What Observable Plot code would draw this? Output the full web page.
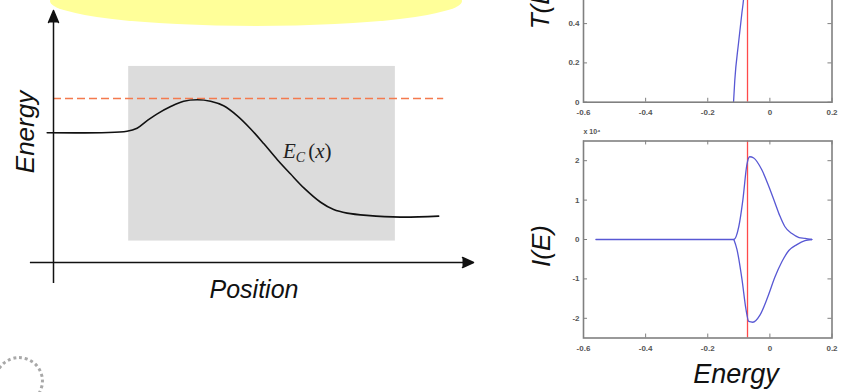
<!DOCTYPE html>
<html><head><meta charset="utf-8">
<script src="https://cdn.jsdelivr.net/npm/d3@7"></script>
<script src="https://cdn.jsdelivr.net/npm/@observablehq/plot@0.6"></script>
<style>
html,body{margin:0;padding:0;background:#fff;}
#stage{position:relative;width:851px;height:392px;overflow:hidden;background:#fff;font-family:"Liberation Sans",Arial,sans-serif;}
#stage > *{position:absolute;}
</style></head><body><div id="stage"></div>
<script>
// ---- Left diagram: conduction band profile E_C(x) (arbitrary units) ----
const ecPosition = [-0.15,1.75,1.99,2.23,2.47,2.79,3.10,3.42,3.74,4.05,4.37,4.69,5.01,5.33,5.64,5.96,6.36,6.67,6.99,7.46,8.26,9.17];
const ecEnergy   = [5.15,5.21,5.33,5.63,5.90,6.19,6.40,6.46,6.40,6.22,5.83,5.31,4.71,4.08,3.52,2.96,2.39,2.10,1.96,1.87,1.80,1.84];
const regionPosition = [1.79, 8.14];
const regionEnergy = [0.85, 7.78];
const fermiLevel = 6.51;
const fermiExtent = [0, 9.29];

// ---- Right panels ----
const xTicks = [-0.6,-0.4,-0.2,0,0.2];
const xTickLabels = ["-0.6","-0.4","-0.2","0","0.2"];
const tTicks = [0,0.2,0.4];
const tTickLabels = ["0","0.2","0.4"];
const iTicks = [-2,-1,0,1,2];
const iTickLabels = ["-2","-1","0","1","2"];
const iExponent = "x 10\u2074";
const markerEnergy = -0.072;

const tEnergy = [-0.117,-0.113,-0.101,-0.090,-0.085,-0.082];
const tValue  = [0,0.11,0.30,0.455,0.52,0.58];

const iUpperEnergy = [-0.56,-0.116,-0.100,-0.087,-0.074,-0.065,-0.052,-0.026,-0.003,0.016,0.032,0.048,0.071,0.094,0.113,0.135];
const iUpperValue  = [0,0,0.33,1.0,1.9,2.1,2.07,1.77,1.34,0.94,0.6,0.33,0.15,0.05,0.03,0];
const iLowerEnergy = [-0.116,-0.106,-0.090,-0.077,-0.068,-0.055,-0.032,-0.006,0.016,0.039,0.061,0.087,0.113,0.135];
const iLowerValue  = [0,-0.25,-1.0,-1.77,-2.08,-2.1,-1.92,-1.44,-0.96,-0.56,-0.28,-0.13,-0.03,0];

const stage = document.getElementById("stage");

// yellow callout (decorative)
const ell = document.createElement("div");
Object.assign(ell.style,{left:"50px",top:"-24px",width:"412px",height:"50px",background:"#ffff99",borderRadius:"50%"});
stage.appendChild(ell);

// logo seal (decorative)
const seal = document.createElement("div");
Object.assign(seal.style,{left:"-6px",top:"356px",width:"50px",height:"50px",border:"3px dotted #a8a8a8",borderRadius:"50%",boxSizing:"border-box"});
stage.appendChild(seal);

// ---- left plot ----
const ecData = ecPosition.map((p,i)=>({p, e: ecEnergy[i]}));
const region = [{x1: regionPosition[0], x2: regionPosition[1], y1: regionEnergy[0], y2: regionEnergy[1]}];
const left = Plot.plot({
  width: 500, height: 320,
  marginLeft: 53, marginRight: 27, marginTop: 10, marginBottom: 58,
  x: {domain: [0, 10], axis: null},
  y: {domain: [0, 10], axis: null},
  style: {background: "transparent", overflow: "visible"},
  marks: [
    Plot.rect(region, {x1: "x1", x2: "x2", y1: "y1", y2: "y2", fill: "#dcdcdc"}),
    Plot.ruleY([fermiLevel], {x1: fermiExtent[0], x2: fermiExtent[1], stroke: "#f47a4e", strokeWidth: 1.5, strokeDasharray: "8,4"}),
    Plot.line(ecData, {x: "p", y: "e", curve: "catmull-rom", stroke: "#111", strokeWidth: 1.6}),
    Plot.ruleX([0], {y1: -0.83, y2: 9.6, stroke: "#111", strokeWidth: 1.5}),
    Plot.ruleY([0], {x1: -0.55, x2: 9.8, stroke: "#111", strokeWidth: 1.5}),
    Plot.vector([{x: 0, y: 10}], {x: "x", y: "y", length: 12, rotate: 0, anchor: "end", shape: "spike", r: 5, stroke: "#111", fill: "#111"}),
    Plot.vector([{x: 10, y: 0}], {x: "x", y: "y", length: 11, rotate: 90, anchor: "end", shape: "spike", r: 5, stroke: "#111", fill: "#111"})
  ]
});
left.style.left = "0px"; left.style.top = "0px";
stage.appendChild(left);

// ---- right panels ----
function panel({yDomain, yTicks, yTickLabels, series, top, height, marginTop, marginBottom, tickY, exponent}) {
  const x0 = -0.6, x1 = 0.2, tickX = 0.013;
  const [ya, yb] = yDomain;
  const labelStyle = {fontSize: 8, fontWeight: "bold", fill: "#555"};
  const marks = [
    Plot.ruleX([markerEnergy], {y1: ya, y2: yb, stroke: "#ff4a4a", strokeWidth: 1.3}),
    ...series.map(s => Plot.line(s, {x: "e", y: "v", curve: "monotone-x", stroke: "#5858d4", strokeWidth: 1.3})),
    Plot.ruleX(xTicks, {y1: ya, y2: ya + tickY, stroke: "#808080", strokeWidth: 1}),
    Plot.ruleX(xTicks, {y1: yb - tickY, y2: yb, stroke: "#808080", strokeWidth: 1}),
    Plot.ruleY(yTicks, {x1: x0, x2: x0 + tickX, stroke: "#808080", strokeWidth: 1}),
    Plot.ruleY(yTicks, {x1: x1 - tickX, x2: x1, stroke: "#808080", strokeWidth: 1}),
    Plot.frame({stroke: "#808080", strokeWidth: 1.6}),
    Plot.text(xTicks, {x: d => d, y: ya, text: (d, i) => xTickLabels[i], dy: 10, ...labelStyle}),
    Plot.text(yTicks, {x: x0, y: d => d, text: (d, i) => yTickLabels[i], dx: -4, textAnchor: "end", ...labelStyle})
  ];
  if (exponent) marks.push(Plot.text([exponent], {frameAnchor: "top-left", text: d => d, dy: -7, textAnchor: "start", lineAnchor: "bottom", ...labelStyle, fontSize: 7}));
  const p = Plot.plot({
    width: 311, height, marginLeft: 43, marginRight: 19.5, marginTop, marginBottom,
    x: {domain: [x0, x1], axis: null},
    y: {domain: yDomain, axis: null},
    style: {background: "transparent", overflow: "visible", fontFamily: "Liberation Sans, Arial, sans-serif"},
    marks
  });
  p.style.left = "540px"; p.style.top = top + "px";
  stage.appendChild(p);
}

panel({
  yDomain: [0, 1], yTicks: tTicks, yTickLabels: tTickLabels,
  series: [tEnergy.map((e,i)=>({e, v: tValue[i]}))],
  top: -120, height: 250, marginTop: 25.2, marginBottom: 28.3, tickY: 0.02
});
panel({
  yDomain: [-2.5, 2.5], yTicks: iTicks, yTickLabels: iTickLabels,
  series: [iUpperEnergy.map((e,i)=>({e, v: iUpperValue[i]})), iLowerEnergy.map((e,i)=>({e, v: iLowerValue[i]}))],
  top: 110, height: 260, marginTop: 30.5, marginBottom: 32.5, tickY: 0.1, exponent: iExponent
});

// ---- titles / annotations ----
const ns = "http://www.w3.org/2000/svg";
const ov = document.createElementNS(ns, "svg");
ov.setAttribute("width", 851); ov.setAttribute("height", 392);
ov.style.left = "0px"; ov.style.top = "0px";
ov.innerHTML = `
<g font-family="Liberation Sans, Arial, sans-serif" font-style="italic" fill="#111">
  <text transform="translate(34,132) rotate(-90)" text-anchor="middle" font-size="26">Energy</text>
  <text x="254" y="298" text-anchor="middle" font-size="25">Position</text>
  <text transform="translate(549,4) rotate(-90)" text-anchor="middle" font-size="26">T(E)</text>
  <text transform="translate(550,246) rotate(-90)" text-anchor="middle" font-size="26">I(E)</text>
  <text x="736" y="383" text-anchor="middle" font-size="27">Energy</text>
</g>
<text x="283" y="158" font-family="Liberation Serif, Times New Roman, serif" font-size="21" fill="#222"><tspan font-style="italic">E</tspan><tspan font-style="italic" font-size="14" dy="4">C</tspan><tspan dy="-4" dx="3">(</tspan><tspan font-style="italic">x</tspan><tspan>)</tspan></text>
`;
stage.appendChild(ov);
</script>
</body></html>
